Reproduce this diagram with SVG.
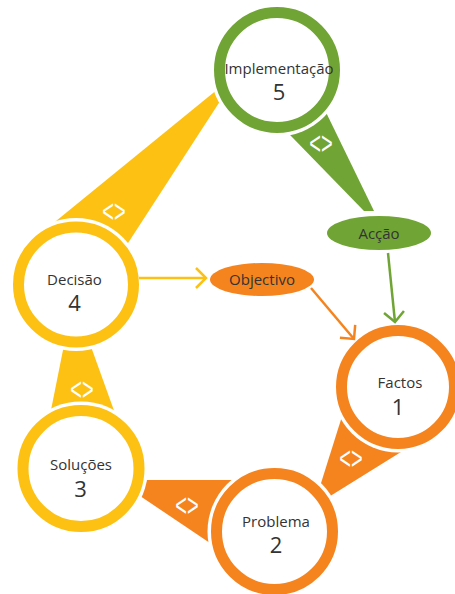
<svg xmlns="http://www.w3.org/2000/svg" width="455" height="594" viewBox="0 0 455 594">
<style>
.halo{fill:#fff}
.ring{fill:#fff;stroke-width:11}
.g{stroke:#70A535}.o{stroke:#F5841F}.y{stroke:#FDC114}
.gf{fill:#70A535}.of{fill:#F5841F}.yf{fill:#FDC114}
.lbl{font-family:"Open Sans","Noto Sans",sans-serif;font-size:15px;fill:#333;text-anchor:middle}
.num{font-family:"Open Sans","Noto Sans",sans-serif;font-size:22px;fill:#333;text-anchor:middle}
.sym{font-family:"Liberation Sans",sans-serif;font-size:20px;fill:#fff;text-anchor:middle}
.conn{fill:none;stroke-width:2.5}
</style>
<defs>
<marker id="ay" markerUnits="userSpaceOnUse" markerWidth="20" markerHeight="24" refX="14" refY="12" orient="auto" overflow="visible"><path d="M4,2 L14,12 L4,22" fill="none" stroke="#FDC114" stroke-width="2.5"/></marker>
<marker id="ao" markerUnits="userSpaceOnUse" markerWidth="20" markerHeight="24" refX="14" refY="12" orient="auto" overflow="visible"><path d="M4,2 L14,12 L4,22" fill="none" stroke="#F5841F" stroke-width="2.5"/></marker>
<marker id="ag" markerUnits="userSpaceOnUse" markerWidth="20" markerHeight="24" refX="14" refY="12" orient="auto" overflow="visible"><path d="M4,2 L14,12 L4,22" fill="none" stroke="#70A535" stroke-width="2.5"/></marker>
</defs>

<g id="wedges">
<g id="wedge-5-accao"><polygon class="gf" points="256,100 320,100 374,211 364,211"/><text class="sym" transform="translate(321,154) scale(1,1.6)">&lt;&gt;</text></g>
<g id="wedge-5-4"><polygon class="yf" points="229,80 226,92 123.5,250 45,230"/><text class="sym" transform="translate(114,222) scale(1,1.6)">&lt;&gt;</text></g>
<g id="wedge-4-3"><polygon class="yf" points="67,330 85,330 121,430 47,430"/><text class="sym" transform="translate(82,400) scale(1,1.6)">&lt;&gt;</text></g>
<g id="wedge-3-2"><polygon class="of" points="120,480 265,480 265,580 120,482.5"/><text class="sym" transform="translate(187,516) scale(1,1.6)">&lt;&gt;</text></g>
<g id="wedge-2-1"><polygon class="of" points="344,410 405,449.5 315,505.4 315.7,500"/><text class="sym" transform="translate(351,469) scale(1,1.6)">&lt;&gt;</text></g>
</g>

<g id="node5"><circle class="halo" cx="277" cy="70" r="66.5"/><circle class="ring g" cx="277" cy="70" r="57.5"/><text class="lbl" x="279" y="74">Implementação</text><text class="num" x="279" y="100">5</text></g>
<g id="node4"><circle class="halo" cx="76" cy="284.5" r="66.5"/><circle class="ring y" cx="76" cy="284.5" r="57.5"/><text class="lbl" x="74.5" y="285">Decisão</text><text class="num" x="74.5" y="311">4</text></g>
<g id="node3"><circle class="halo" cx="81" cy="468.5" r="67"/><circle class="ring y" cx="81" cy="468.5" r="58"/><text class="lbl" x="81" y="470">Soluções</text><text class="num" x="80.5" y="497">3</text></g>
<g id="node2"><circle class="halo" cx="274.5" cy="531.5" r="67"/><circle class="ring o" cx="274.5" cy="531.5" r="58"/><text class="lbl" x="276" y="527">Problema</text><text class="num" x="276" y="553">2</text></g>
<g id="node1"><circle class="halo" cx="398" cy="387" r="65.5"/><circle class="ring o" cx="398" cy="387" r="56.5"/><text class="lbl" x="400" y="388">Factos</text><text class="num" x="398" y="415">1</text></g>

<g id="accao"><ellipse class="gf" cx="379" cy="233" rx="52" ry="17"/><text class="lbl" x="379" y="239">Acção</text></g>
<g id="objectivo"><ellipse class="of" cx="262" cy="279.5" rx="52" ry="16.5"/><text class="lbl" x="262" y="285">Objectivo</text></g>

<g id="connectors">
<line class="conn y" x1="139" y1="278" x2="206" y2="278" marker-end="url(#ay)"/>
<line class="conn o" x1="311" y1="288" x2="354" y2="339" marker-end="url(#ao)"/>
<line class="conn g" x1="388" y1="253" x2="395" y2="322" marker-end="url(#ag)"/>
</g>
</svg>
